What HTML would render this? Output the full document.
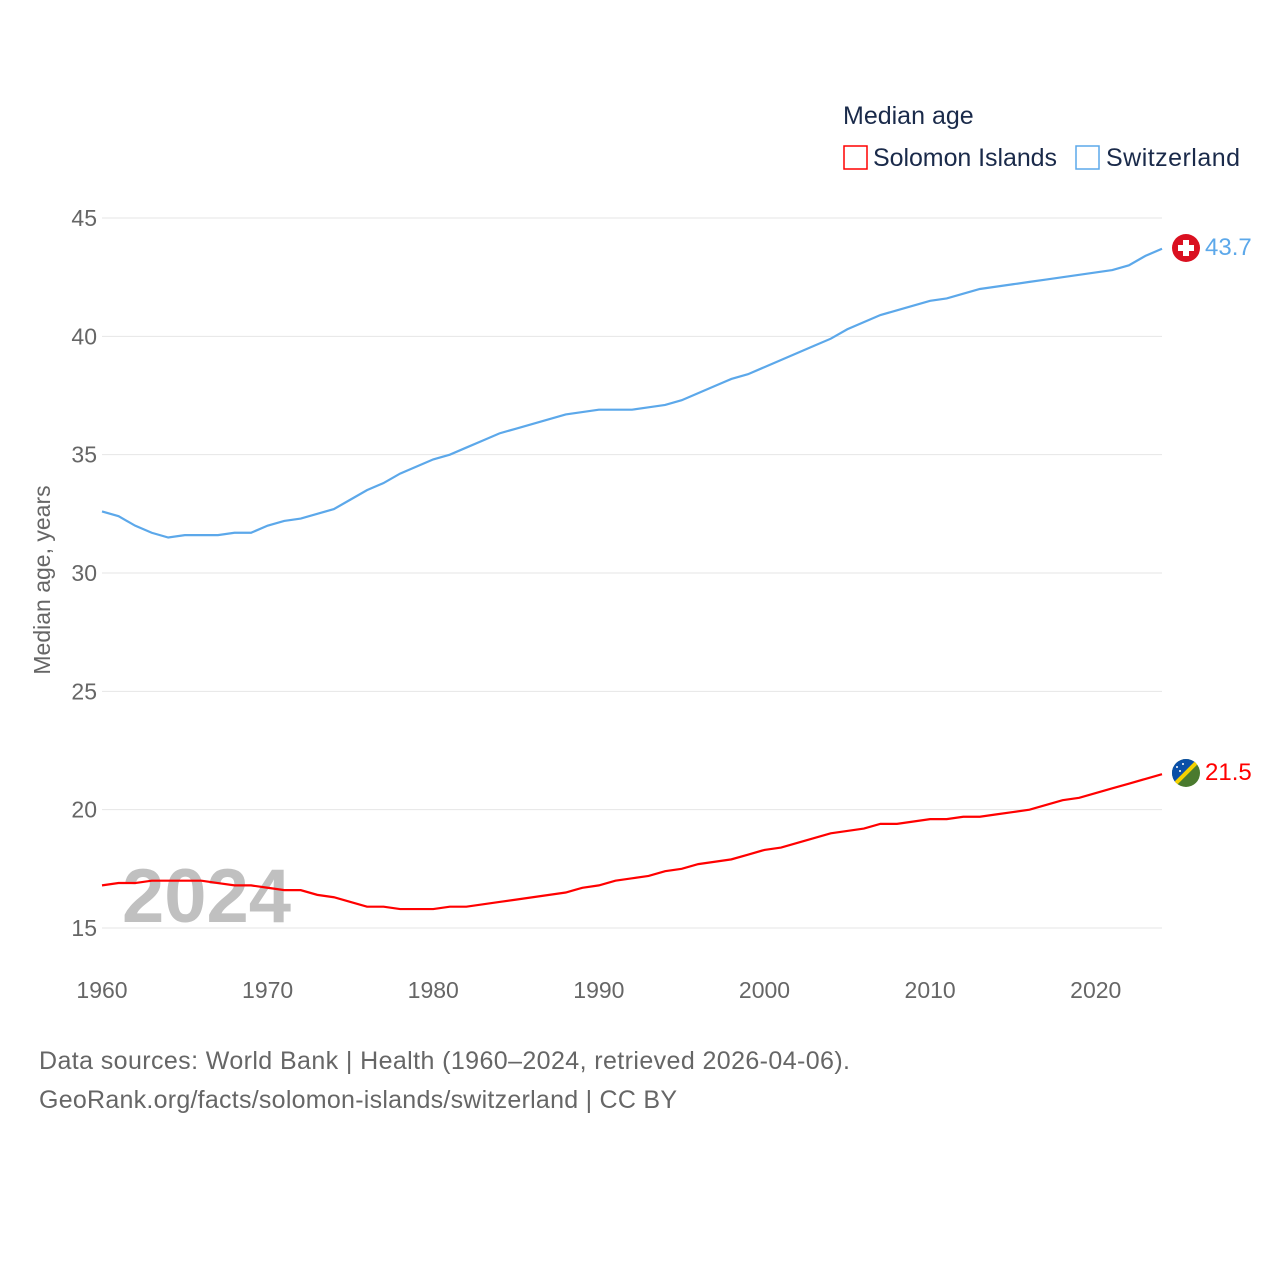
<!DOCTYPE html>
<html><head><meta charset="utf-8"><style>
body{margin:0;background:#fff;font-family:"Liberation Sans",sans-serif}
svg text{font-family:"Liberation Sans",sans-serif}
</style></head><body>
<svg id="chart" width="1280" height="1280" viewBox="0 0 1280 1280" xmlns="http://www.w3.org/2000/svg">
<text x="843" y="124" font-size="25" fill="#1a2a4a">Median age</text>
<g><rect x="844" y="146" width="23" height="23" fill="none" stroke="#ff0000" stroke-width="1.5"/><text x="873" y="166" font-size="25" fill="#1a2a4a" textLength="184">Solomon Islands</text></g>
<g><rect x="1076" y="146" width="23" height="23" fill="none" stroke="#5ca8ea" stroke-width="1.5"/><text x="1106" y="166" font-size="25" fill="#1a2a4a" textLength="134">Switzerland</text></g>
<text transform="translate(50,580) rotate(-90)" text-anchor="middle" font-size="23" fill="#666">Median age, years</text>
<g id="grid"></g><g id="xt"></g>
<text x="122" y="922" font-size="76" font-weight="bold" fill="#c0c0c0">2024</text>
<g id="lines"></g>
<g><circle cx="1186" cy="248" r="14" fill="#da1020"/><rect x="1183" y="240" width="6" height="16" fill="#fff"/><rect x="1178" y="245" width="16" height="6" fill="#fff"/></g>
<g><clipPath id="sc"><circle cx="1186" cy="773" r="14"/></clipPath><g clip-path="url(#sc)"><rect x="1170" y="757" width="32" height="32" fill="#4a7a2e"/><polygon points="1170,757 1202,757 1170,789" fill="#0a4fa8"/><line x1="1170" y1="789" x2="1202" y2="757" stroke="#f5d200" stroke-width="4"/><circle cx="1177" cy="767" r="1" fill="#fff"/><circle cx="1183" cy="764" r="1" fill="#fff"/><circle cx="1180" cy="771" r="1" fill="#fff"/></g></g>
<text x="1205" y="255" font-size="24" fill="#5ca8ea">43.7</text>
<text x="1205" y="780" font-size="24" fill="#ff0000">21.5</text>
<text x="39" y="1069" font-size="25" fill="#666" textLength="811">Data sources: World Bank | Health (1960–2024, retrieved 2026-04-06).</text>
<text x="39" y="1108" font-size="25" fill="#666" textLength="638">GeoRank.org/facts/solomon-islands/switzerland | CC BY</text>
</svg>
<script>
const years=[];for(let y=1960;y<=2024;y++)years.push(y);
const switzerland=[32.6,32.4,32.0,31.7,31.5,31.6,31.6,31.6,31.7,31.7,32.0,32.2,32.3,32.5,32.7,33.1,33.5,33.8,34.2,34.5,34.8,35.0,35.3,35.6,35.9,36.1,36.3,36.5,36.7,36.8,36.9,36.9,36.9,37.0,37.1,37.3,37.6,37.9,38.2,38.4,38.7,39.0,39.3,39.6,39.9,40.3,40.6,40.9,41.1,41.3,41.5,41.6,41.8,42.0,42.1,42.2,42.3,42.4,42.5,42.6,42.7,42.8,43.0,43.4,43.7];
const solomon=[16.8,16.9,16.9,17.0,17.0,17.0,17.0,16.9,16.8,16.8,16.7,16.6,16.6,16.4,16.3,16.1,15.9,15.9,15.8,15.8,15.8,15.9,15.9,16.0,16.1,16.2,16.3,16.4,16.5,16.7,16.8,17.0,17.1,17.2,17.4,17.5,17.7,17.8,17.9,18.1,18.3,18.4,18.6,18.8,19.0,19.1,19.2,19.4,19.4,19.5,19.6,19.6,19.7,19.7,19.8,19.9,20.0,20.2,20.4,20.5,20.7,20.9,21.1,21.3,21.5];
const yTicks=[15,20,25,30,35,40,45];
const xTicks=[1960,1970,1980,1990,2000,2010,2020];
const NS="http://www.w3.org/2000/svg";
const X=y=>102+(y-1960)*(1162-102)/64;
const Y=v=>928-(v-15)*(928-218)/30;
function mk(tag,attrs,parent){const e=document.createElementNS(NS,tag);for(const k in attrs)e.setAttribute(k,attrs[k]);parent.appendChild(e);return e;}
const grid=document.getElementById('grid');
yTicks.forEach(t=>{
 const l=mk('line',{x1:102,x2:1162,y1:Y(t),y2:Y(t),stroke:'#e6e6e6','stroke-width':1},grid);
 
 
 const tx=mk('text',{x:97,y:Y(t)+8,'text-anchor':'end','font-size':23,fill:'#666'},grid);
 tx.textContent=t;
 
 
});
const xt=document.getElementById('xt');
xTicks.forEach(t=>{
 const tx=mk('text',{x:X(t),y:998,'text-anchor':'middle','font-size':23,fill:'#666'},xt);
 tx.textContent=t;
 
 
});
const lines=document.getElementById('lines');
[[switzerland,'#5ca8ea','switzerland-line'],[solomon,'#ff0000','solomon-islands-line']].forEach(([d,c,n])=>{
 const p=mk('polyline',{points:d.map((v,i)=>X(years[i])+','+Y(v)).join(' '),fill:'none',stroke:c,'stroke-width':2.2},lines);
 
 
});
</script>
</body></html>
